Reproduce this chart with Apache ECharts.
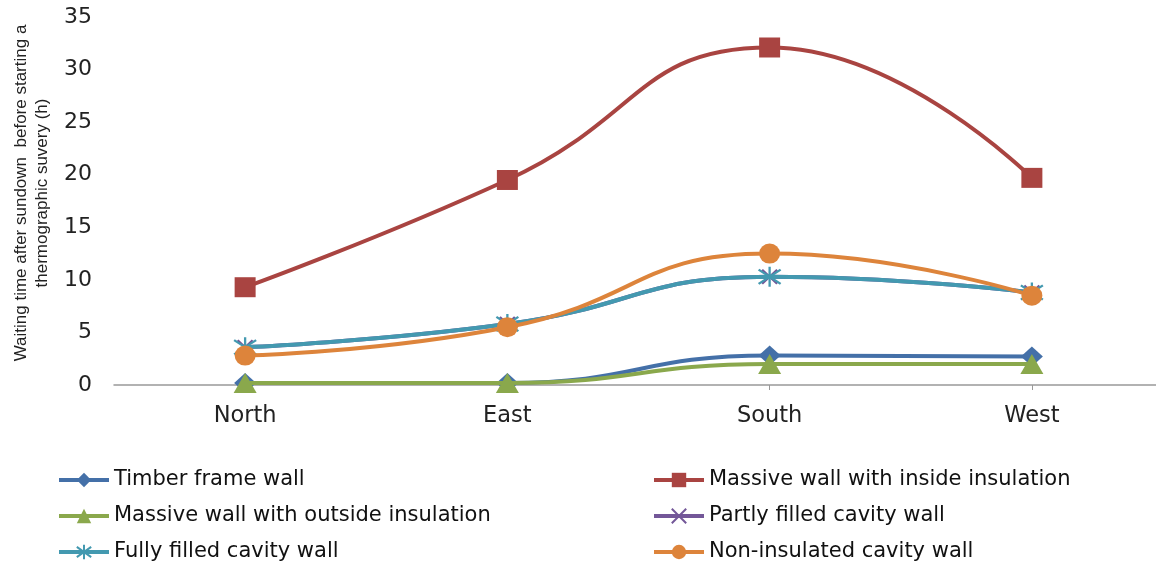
<!DOCTYPE html>
<html>
<head>
<meta charset="utf-8">
<script src="https://cdn.jsdelivr.net/npm/echarts@6/dist/echarts.min.js"></script>
<style>html,body{margin:0;padding:0;background:#fff;}#c{width:1156px;height:564px;}</style>
</head>
<body>
<div id="c"></div>
<script>
const categories = ['North', 'East', 'South', 'West'];
const timberFrame = [0.2, 0.2, 2.8, 2.7];
const massiveInside = [9.3, 19.5, 32.1, 19.7];
const massiveOutside = [0.2, 0.2, 2.0, 2.0];
const partlyFilled = [3.6, 5.8, 10.3, 8.8];
const fullyFilled = [3.6, 5.8, 10.3, 8.8];
const nonInsulated = [2.8, 5.5, 12.5, 8.5];
const yTicks = [0, 5, 10, 15, 20, 25, 30, 35];

const names = ['Timber frame wall', 'Massive wall with inside insulation', 'Massive wall with outside insulation',
  'Partly filled cavity wall', 'Fully filled cavity wall', 'Non-insulated cavity wall'];
const colors = ['#4470A8', '#A94441', '#8AA84C', '#735798', '#4399B0', '#DD843B'];
const asterisk = 'path://M10,0L10,20M2.9,2.9L17.1,17.1M2.9,17.1L17.1,2.9';
const cross = 'path://M0,0L20,20M0,20L20,0';
const symbols = ['diamond', 'rect', 'triangle', cross, asterisk, 'circle'];
const sizes = [[22, 20], [21, 20], [23, 20], [15, 14], [22, 20], [21, 20]];
const dataSets = [timberFrame, massiveInside, massiveOutside, partlyFilled, fullyFilled, nonInsulated];
const font = 'DejaVu Sans, sans-serif';
const nameFont = 'Liberation Sans, Arial, sans-serif';

const series = dataSets.map((d, i) => {
  const isPath = symbols[i].startsWith('path://');
  return {
    name: names[i], type: 'line', data: d, smooth: 0.5,
    symbol: symbols[i], symbolSize: sizes[i],
    lineStyle: { color: colors[i], width: 4 },
    itemStyle: isPath ? { color: 'rgba(0,0,0,0)', borderColor: colors[i], borderWidth: 2.2 } : { color: colors[i], borderWidth: 0 },
    emphasis: { disabled: true }, z: 2 + i
  };
});

const legendCommon = {
  orient: 'vertical', top: 468, itemWidth: 50, itemHeight: 18, itemGap: 12, padding: 0,
  lineStyle: { width: 4 },
  textStyle: { fontFamily: font, fontSize: 21, color: '#111', lineHeight: 24 }
};

const chart = echarts.init(document.getElementById('c'), null, { renderer: 'canvas' });
chart.setOption({
  animation: false,
  backgroundColor: '#fff',
  grid: { left: 114, top: 17, width: 1049, bottom: 179, containLabel: false, outerBoundsMode: 'none' },
  xAxis: {
    type: 'category', data: categories, boundaryGap: true,
    axisLine: { show: true, lineStyle: { color: '#999', width: 1.5 } },
    axisTick: { show: true, alignWithLabel: true, length: 5, lineStyle: { color: '#999' } },
    axisLabel: { fontFamily: font, fontSize: 22.5, color: '#222', margin: 20 }
  },
  yAxis: {
    type: 'value', min: yTicks[0], max: yTicks[yTicks.length - 1], interval: 5,
    axisLine: { show: false }, axisTick: { show: false }, splitLine: { show: false },
    axisLabel: { fontFamily: font, fontSize: 22, color: '#222', margin: 22 },
    name: 'Waiting time after sundown  before starting a\nthermographic suvery (h)',
    nameLocation: 'middle', nameGap: 61, nameRotate: 90,
    nameTextStyle: { fontFamily: nameFont, fontSize: 17, color: '#222', lineHeight: 21, align: 'center', padding: [0, 0, 0, 16] }
  },
  legend: [
    Object.assign({ data: [names[0], names[2], names[4]], left: 57 }, legendCommon),
    Object.assign({ data: [names[1], names[3], names[5]], left: 652 }, legendCommon)
  ],
  series: series
});
</script>
</body>
</html>
